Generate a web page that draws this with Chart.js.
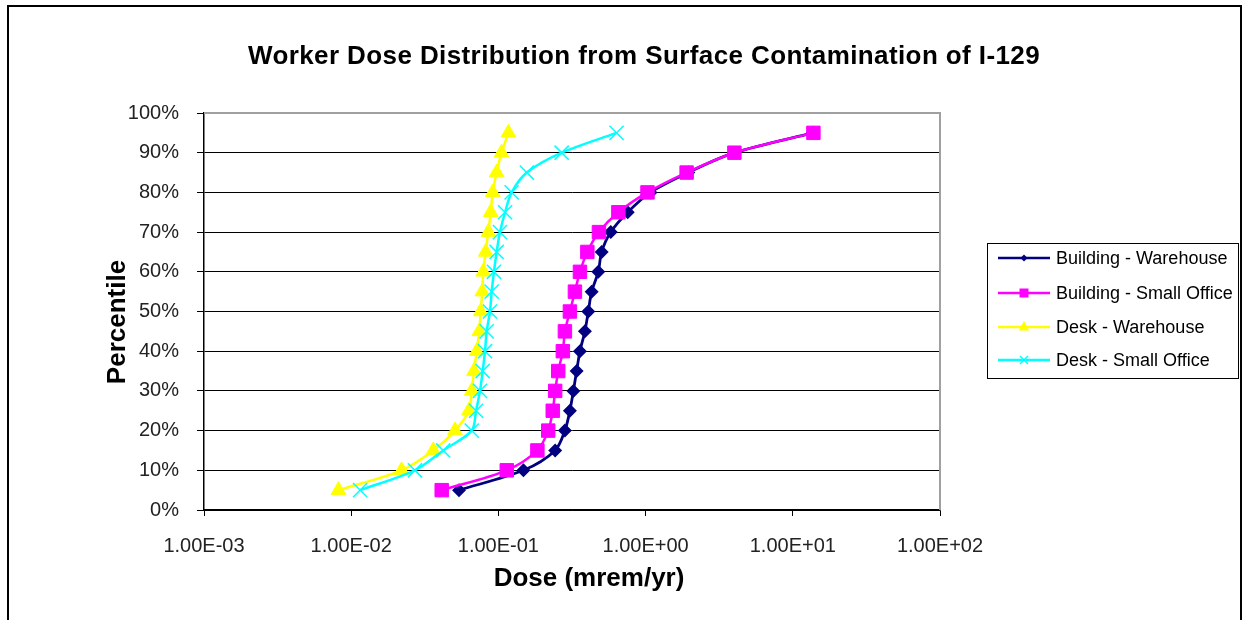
<!DOCTYPE html>
<html>
<head>
<meta charset="utf-8">
<title>Worker Dose Distribution from Surface Contamination of I-129</title>
<script src="https://cdn.jsdelivr.net/npm/chart.js@4.4.1/dist/chart.umd.min.js"></script>
<style>
    body { margin: 0; background: #fff; }
    canvas { display: block; }
</style>
</head>
<body>
<canvas id="graficoDose" width="1247" height="620"></canvas>
<script>
// percentis (eixo y) e doses (mrem/yr)
const percentis = [5, 10, 15, 20, 25, 30, 35, 40, 45, 50, 55, 60, 65, 70, 75, 80, 85, 90, 95];
const buildingWarehouse = [0.054, 0.148, 0.243, 0.283, 0.306, 0.323, 0.340, 0.358, 0.387, 0.408, 0.430, 0.477, 0.503, 0.580, 0.756, 1.08, 1.95, 4.0, 13.7];
const buildingSmallOffice = [0.0412, 0.114, 0.184, 0.218, 0.234, 0.243, 0.255, 0.274, 0.283, 0.306, 0.331, 0.358, 0.402, 0.482, 0.653, 1.03, 1.90, 4.01, 13.8];
const deskWarehouse = [0.0082, 0.0220, 0.0361, 0.0507, 0.0631, 0.0659, 0.0683, 0.0713, 0.0742, 0.0758, 0.0777, 0.0789, 0.0820, 0.0854, 0.0887, 0.0915, 0.0973, 0.105, 0.117];
const deskSmallOffice = [0.0115, 0.0271, 0.0422, 0.0659, 0.0705, 0.0750, 0.0782, 0.0811, 0.0832, 0.0877, 0.0900, 0.0933, 0.0973, 0.1025, 0.111, 0.123, 0.156, 0.269, 0.635];

const xTickValues = [0.001, 0.01, 0.1, 1, 10, 100];
const xTickLabels = ['1.00E-03', '1.00E-02', '1.00E-01', '1.00E+00', '1.00E+01', '1.00E+02'];

const seriesNames = ['Building - Warehouse', 'Building - Small Office', 'Desk - Warehouse', 'Desk - Small Office'];
const seriesColors = ['#000080', '#ff00ff', '#ffff00', '#00ffff'];

function pontos(doses) {
    return doses.map((d, i) => ({ x: d, y: percentis[i] }));
}

const FONT = '"Liberation Sans", Arial, sans-serif';

function marker(c, style, x, y, s, color) {
    c.fillStyle = color;
    c.strokeStyle = color;
    c.beginPath();
    if (style === 'diamond') {
        c.moveTo(x - s, y); c.lineTo(x, y - s); c.lineTo(x + s, y); c.lineTo(x, y + s); c.closePath(); c.fill();
    } else if (style === 'square') {
        c.rect(x - s, y - s, 2 * s, 2 * s); c.fill();
    } else if (style === 'triangle') {
        c.moveTo(x, y - s); c.lineTo(x + s * 0.87, y + s * 0.6); c.lineTo(x - s * 0.87, y + s * 0.6); c.closePath(); c.fill();
    } else {
        c.lineWidth = 1.5;
        c.moveTo(x - s, y - s); c.lineTo(x + s, y + s);
        c.moveTo(x + s, y - s); c.lineTo(x - s, y + s);
        c.stroke();
    }
}

// moldura, titulos e legenda desenhados sobre o canvas
const decoracao = {
    id: 'decoracao',
    beforeDraw(chart) {
        const c = chart.ctx;
        c.save();
        c.fillStyle = '#fff';
        c.fillRect(0, 0, chart.width, chart.height);
        c.restore();
    },
    beforeDatasetsDraw(chart) {
        const a = chart.chartArea;
        const c = chart.ctx;
        c.save();
        c.strokeStyle = '#a0a0a0';
        c.lineWidth = 2;
        c.beginPath();
        c.moveTo(a.left, a.top);
        c.lineTo(a.right, a.top);
        c.lineTo(a.right, a.bottom);
        c.stroke();
        c.restore();
    },
    afterDraw(chart) {
        const c = chart.ctx;
        c.save();
        // moldura externa
        c.strokeStyle = '#000';
        c.lineWidth = 2;
        c.strokeRect(8, 6, 1233, 700);

        c.fillStyle = '#000';
        c.textAlign = 'center';
        c.textBaseline = 'middle';
        c.font = 'bold 26px ' + FONT;
        c.letterSpacing = '0.4px';
        c.fillText('Worker Dose Distribution from Surface Contamination of I-129', 644, 57);
        c.letterSpacing = '0px';
        c.fillText('Dose (mrem/yr)', 589, 579);
        c.save();
        c.translate(118, 322);
        c.rotate(-Math.PI / 2);
        c.fillText('Percentile', 0, 0);
        c.restore();

        // legenda
        c.strokeStyle = '#000';
        c.lineWidth = 1;
        c.strokeRect(987.5, 243.5, 251, 135);
        const ys = [258, 293, 327, 360];
        const estilos = ['diamond', 'square', 'triangle', 'cross'];
        const tamanhos = [3.5, 4.5, 6, 4];
        c.font = '18px ' + FONT;
        c.textAlign = 'left';
        ys.forEach((y, i) => {
            c.strokeStyle = seriesColors[i];
            c.lineWidth = 2.5;
            c.beginPath();
            c.moveTo(998, y);
            c.lineTo(1050, y);
            c.stroke();
            marker(c, estilos[i], 1024, y, tamanhos[i], seriesColors[i]);
            c.fillStyle = '#000';
            c.fillText(seriesNames[i], 1056, y + 1);
        });
        c.restore();
    }
};

const ctx = document.getElementById('graficoDose').getContext('2d');
new Chart(ctx, {
    type: 'line',
    data: {
        datasets: [{
            label: seriesNames[0],
            data: pontos(buildingWarehouse),
            borderColor: seriesColors[0],
            backgroundColor: seriesColors[0],
            pointStyle: 'rectRot',
            pointRadius: 5,
            borderWidth: 2.8,
            order: 3
        }, {
            label: seriesNames[1],
            data: pontos(buildingSmallOffice),
            borderColor: seriesColors[1],
            backgroundColor: seriesColors[1],
            pointStyle: 'rect',
            pointRadius: 9.5,
            order: 2
        }, {
            label: seriesNames[2],
            data: pontos(deskWarehouse),
            borderColor: seriesColors[2],
            backgroundColor: seriesColors[2],
            pointStyle: 'triangle',
            pointRadius: 8.5,
            order: 1
        }, {
            label: seriesNames[3],
            data: pontos(deskSmallOffice),
            borderColor: seriesColors[3],
            backgroundColor: seriesColors[3],
            pointStyle: 'crossRot',
            pointRadius: 10,
            pointBorderWidth: 1.5,
            order: 0
        }]
    },
    options: {
        responsive: false,
        animation: false,
        devicePixelRatio: 1,
        layout: {
            padding: { top: 113, right: 307, bottom: 0, left: 0 }
        },
        elements: {
            line: { borderWidth: 2.5, tension: 0.3, fill: false },
            point: { borderWidth: 1 }
        },
        plugins: {
            legend: { display: false },
            title: { display: false },
            tooltip: { enabled: false }
        },
        scales: {
            x: {
                type: 'logarithmic',
                min: 0.001,
                max: 100,
                afterBuildTicks: (scale) => {
                    scale.ticks = xTickValues.map(v => ({ value: v }));
                },
                afterFit: (scale) => { scale.height = 110; },
                ticks: {
                    callback: (value, index) => xTickLabels[index],
                    color: '#222',
                    font: { family: FONT, size: 20 },
                    padding: 18,
                    maxRotation: 0,
                    autoSkip: false
                },
                grid: {
                    drawOnChartArea: false,
                    drawTicks: true,
                    tickLength: 6,
                    color: '#000'
                },
                border: { color: '#000', width: 1.5 }
            },
            y: {
                min: 0,
                max: 100,
                afterFit: (scale) => { scale.width = 204; },
                ticks: {
                    stepSize: 10,
                    callback: (value) => value + '%',
                    color: '#222',
                    font: { family: FONT, size: 20 },
                    padding: 18
                },
                grid: {
                    color: '#000',
                    lineWidth: 1,
                    tickLength: 7
                },
                border: { color: '#000', width: 1.5 }
            }
        }
    },
    plugins: [decoracao]
});
</script>
</body>
</html>
